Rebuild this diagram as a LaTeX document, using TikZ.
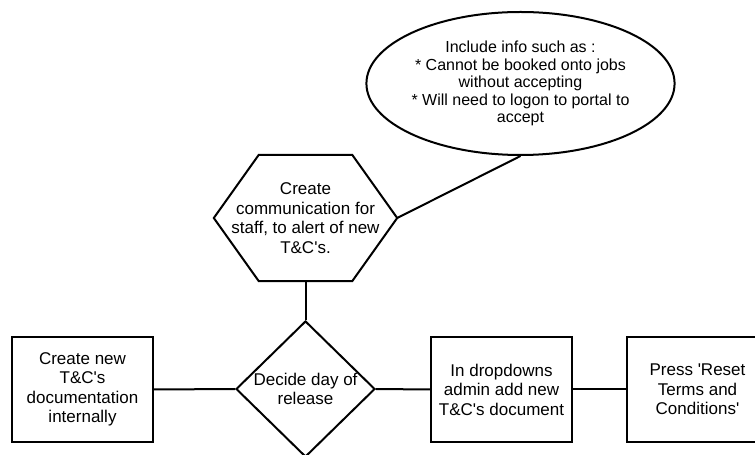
\documentclass[tikz,border=0pt]{standalone}
\usepackage{fontspec}
\setmainfont{Liberation Sans}[Ligatures=TeXOff]
\usetikzlibrary{shapes.geometric}
\begin{document}
\begin{tikzpicture}[x=1pt,y=1pt,
    every node/.style={align=center,inner sep=0pt,font=\fontsize{17}{19.5}\selectfont},
    stepbox/.style={draw,line width=2pt,fill=white,minimum width=141pt,minimum height=105pt},
    choice/.style={draw,line width=2pt,fill=white,diamond,minimum width=139pt,minimum height=136pt},
    hexa/.style={minimum width=183pt,minimum height=126pt},
    note/.style={draw,line width=2pt,fill=white,ellipse,minimum width=253pt,minimum height=143pt,
      font=\fontsize{16}{17.5}\selectfont}]
      \useasboundingbox (0,0) rectangle (755,455);
      \clip (0,0) rectangle (755,455);
      \draw
        (82.5,65.5) node[stepbox] (doc){Create new\\T\&C's\\documentation\\internally}
        (305.5,66) node[choice] (day){Decide day of\\release}
        (501.5,65.5) node[stepbox] (drop){In dropdowns\\admin add new\\T\&C's document}
        (697.5,65.5) node[stepbox] (reset){Press 'Reset\\Terms and\\Conditions'}
        (305.5,237) node[hexa] (comm){Create\\communication for\\staff, to alert of new\\T\&C's.}
        (520.5,371.5) node[note] (info){Include info such as :\\* Cannot be booked onto jobs\\without accepting\\* Will need to logon to portal to\\accept};
      % hexagon outline round the communication step
      \draw[line width=2pt,line join=miter]
        (comm.west) -- ([xshift=45pt]comm.north west) -- ([xshift=-45pt]comm.north east)
        -- (comm.east) -- ([xshift=-45pt]comm.south east) -- ([xshift=45pt]comm.south west) -- cycle;
      \begin{scope}[-,line width=2pt]
        \draw (doc.east) to (day.west);
        \draw (day.east) to (drop.west);
        \draw (drop.east) to (reset.west);
        \draw (comm.south) to (day.north);
        \draw (comm.east) to (info.south);
      \end{scope}
    \end{tikzpicture}
\end{document}
